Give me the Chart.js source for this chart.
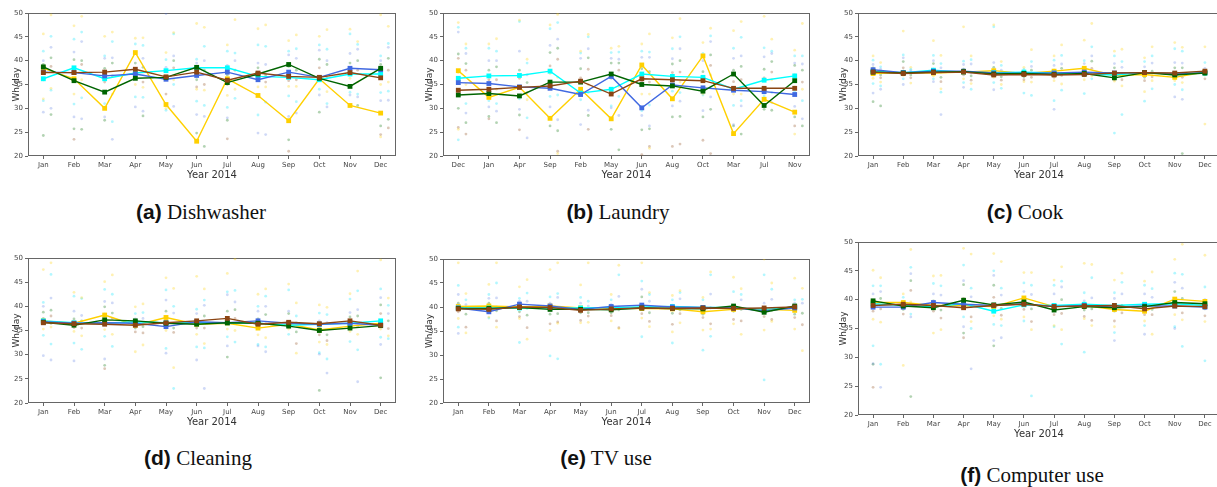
<!DOCTYPE html>
<html lang="en">
<head>
  <meta charset="UTF-8">
  <title>Monthly consumption per appliance</title>
  <script src="https://cdn.jsdelivr.net/npm/chart.js"></script>
  <style>
    body {
      margin: 0;
      width: 1217px;
      height: 487px;
      overflow: hidden;
      background: #fff;
      position: relative;
    }
    .panel { position: absolute; }
    .caption {
      position: absolute;
      width: 360px;
      text-align: center;
      font-family: 'Liberation Serif', 'Times New Roman', serif;
      font-size: 21px;
      line-height: 24px;
      color: #111;
      white-space: nowrap;
    }
    .caption b {
      font-family: 'Liberation Sans', Arial, sans-serif;
      font-weight: 700;
    }
  </style>
</head>
<body>
  <div class="panel" style="left:3px;top:0;width:397px;height:182px"><canvas id="ca"></canvas></div>
  <div class="panel" style="left:416px;top:0;width:399px;height:182px"><canvas id="cb"></canvas></div>
  <div class="panel" style="left:830px;top:0;width:394px;height:182px"><canvas id="cc"></canvas></div>
  <div class="panel" style="left:3px;top:245px;width:397px;height:184px"><canvas id="cd"></canvas></div>
  <div class="panel" style="left:416px;top:246px;width:399px;height:183px"><canvas id="ce"></canvas></div>
  <div class="panel" style="left:830px;top:229px;width:394px;height:212px"><canvas id="cf"></canvas></div>

  <div class="caption" style="left:21px;top:200px"><b>(a)</b> Dishwasher</div>
  <div class="caption" style="left:438px;top:200px"><b>(b)</b> Laundry</div>
  <div class="caption" style="left:845px;top:200px"><b>(c)</b> Cook</div>
  <div class="caption" style="left:18px;top:446px"><b>(d)</b> Cleaning</div>
  <div class="caption" style="left:426px;top:446px"><b>(e)</b> TV use</div>
  <div class="caption" style="left:852px;top:463px"><b>(f)</b> Computer use</div>

  <script>
    // categories
    const months = ['Jan', 'Feb', 'Mar', 'Apr', 'May', 'Jun', 'Jul', 'Aug', 'Sep', 'Oct', 'Nov', 'Dec'];
    const laundryMonths = ['Dec', 'Jan', 'Apr', 'Sep', 'Feb', 'May', 'Jun', 'Aug', 'Oct', 'Mar', 'Jul', 'Nov'];
    const yTicks = [20, 25, 30, 35, 40, 45, 50];

    // (a) Dishwasher
    const dishGold  = [38.4, 36.2, 30.0, 41.7, 30.8, 23.1, 36.2, 32.7, 27.4, 36.2, 30.6, 29.0];
    const dishCyan  = [36.2, 38.5, 36.2, 37.4, 37.9, 38.5, 38.5, 36.7, 36.5, 36.0, 37.2, 37.2];
    const dishBlue  = [37.6, 37.5, 36.8, 37.2, 36.1, 36.9, 37.6, 36.0, 37.6, 36.5, 38.4, 38.1];
    const dishGreen = [38.7, 35.8, 33.4, 36.3, 36.5, 38.6, 35.4, 37.2, 39.2, 36.3, 34.6, 38.4];
    const dishBrown = [37.5, 37.5, 37.6, 38.2, 36.6, 37.6, 35.9, 37.4, 36.7, 36.5, 37.5, 36.4];
    const dishDotsA = [
      [45.6, 42, 40, 39.2, 36, 32, 31.6, 29.2, 24.3], [47.3, 44.5, 41.8, 40.2, 38.2, 33, 30.9, 28.2, 25.7, 23.5],
      [45.1, 41, 40.5, 38.4, 35.5, 33.4, 31, 28.2, 27.5], [44.7, 43.5, 41.5, 39.5, 37.4, 35, 32.4, 30.3],
      [41.7, 40.2, 38.6, 36.5, 33, 30, 29.6, 49.9], [47.8, 40.3, 39.5, 36, 34.5, 34, 31.5, 28.7, 24.8],
      [43.3, 42, 39, 37, 35, 32.7, 30.2, 28, 27.5, 23.6], [46.7, 43.3, 39.5, 38.5, 36, 34.5, 28.6, 24.8],
      [44.2, 42, 41.2, 38.8, 35.8, 34.6, 32.6, 28.3, 23.4, 21], [45.1, 43.3, 42.2, 40.3, 38.5, 36.5, 34, 32.8, 29.2],
      [46.6, 45.6, 41.5, 39.5, 38, 36.3, 33.4, 32.8, 30.6], [49.6, 41, 40, 39.2, 37.5, 35, 33.3, 31.6, 26.3, 24.5, 24]
    ];
    const dishDotsB = [
      [49.6, 45.1, 42.8, 40.6, 38.8, 34.2, 33.8, 30, 28.7], [49.3, 46, 44, 40, 39.2, 36, 32.2, 27.8, 25.6],
      [46, 44, 40.6, 39.5, 36.8, 33, 27.2, 23.5], [44.8, 43.2, 40.5, 38.6, 35.5, 34.4, 32.3, 29.4, 28.4],
      [45.9, 45.6, 41, 40, 38.5, 36, 35, 30.4], [47, 43, 40, 38, 35, 33.8, 30.6, 28.3, 22],
      [48.6, 41.6, 40, 38, 36, 34, 32.1], [47.5, 43, 39.2, 37, 35.5, 34.5, 31.3, 24.5],
      [45.4, 42.5, 40.5, 38, 36, 34.6, 31.4, 29], [46.5, 42.4, 40, 39.2, 36.4, 33.5, 31, 30.3],
      [44, 43.4, 42.4, 40, 38, 35.5, 33, 32.4, 30.6], [47.2, 43.6, 42.8, 40.5, 38, 35.5, 33.6, 31.7, 27.7, 25.9]
    ];

    // (b) Laundry
    const laundryGold  = [37.9, 32.3, 34.4, 27.9, 34.0, 27.8, 39.1, 32.0, 41.0, 24.7, 31.9, 29.2];
    const laundryCyan  = [36.3, 36.8, 36.9, 37.8, 33.2, 34.0, 37.2, 36.7, 36.5, 34.0, 35.9, 36.8];
    const laundryBlue  = [35.4, 35.2, 34.5, 34.2, 32.9, 36.7, 30.1, 34.9, 34.3, 33.8, 33.5, 32.9];
    const laundryGreen = [32.8, 33.1, 32.6, 35.5, 35.5, 37.2, 35.0, 34.7, 33.6, 37.2, 30.6, 35.8];
    const laundryBrown = [33.8, 34.0, 34.4, 34.7, 35.7, 33.0, 36.2, 36.0, 35.8, 34.2, 34.2, 34.2];
    const laundryDotsA = [
      [48, 47, 46, 41.4, 40.5, 37.5, 36, 33.5, 30, 26, 25.6, 23.4], [43.5, 42.6, 40, 38, 36, 33.8, 31.6, 30.3, 28.3, 27.8],
      [48.5, 48.2, 42, 38, 36.3, 34.6, 32, 29.8, 28.6, 25.5], [47.5, 46.7, 43.2, 41.7, 38.9, 37.3, 32.5, 30.3, 26.3],
      [42, 41.6, 40.5, 38.3, 36.4, 33.5, 31.8, 26.6], [42.6, 41.7, 40.5, 39.5, 36.3, 33.6, 30.5, 30.1, 25.6],
      [43.5, 42, 40.7, 38.3, 35.5, 33, 29.5, 28.5, 25.5, 20.3], [44.8, 42.5, 40.4, 39.3, 37.5, 35.5, 33.6, 30.5, 28.2, 22],
      [43.8, 41.5, 40, 37.7, 36.5, 33, 32.8, 29.5, 28.2, 23.3], [46.3, 42.6, 40.5, 38, 35.6, 33, 30.6, 26.6, 26.3, 24.6],
      [49.3, 42.7, 40.8, 38.2, 36.4, 34, 32.6, 30.7, 29.8], [42.2, 41, 39.5, 39, 37, 34.5, 33.5, 30.4, 28.2, 26.3, 24.6]
    ];
    const laundryDotsB = [
      [43.5, 42.6, 41.5, 39.4, 38, 35, 31, 29, 27, 24.6], [44.6, 42, 40, 38.7, 36, 34, 31, 29.4, 27],
      [40.3, 39.5, 37, 35.4, 33.3, 31.8, 28, 23.8], [49.7, 48, 44.5, 42.6, 40.3, 36.5, 32.8, 27.6, 25.3, 21, 20.5],
      [45.5, 45, 42.5, 40.6, 38.2, 35, 33.3, 29.6, 28.5, 25.6], [43, 41.8, 40.3, 39.5, 38, 34.6, 32.5, 28.5, 21.3],
      [45.6, 41.8, 40.7, 37.7, 35.5, 33, 30.7, 26.3, 25.7, 22, 21.6], [48.8, 45, 42.5, 40, 37.6, 35.5, 33.3, 31.5, 28.3, 22.5],
      [46.8, 45.2, 44, 41.2, 39, 37, 34.5, 32.4, 29.8, 20.5], [48.2, 44.9, 41, 38.8, 36, 33, 31.6, 30.5, 24.6],
      [44.5, 42, 41.5, 39.8, 37.6, 36, 33.3, 31.2, 29.6], [47.8, 41, 39.3, 38, 35.5, 34, 31.6, 27.8, 26.3]
    ];

    // (c) Cook
    const cookGold  = [37.3, 37.5, 37.4, 37.6, 37.9, 37.3, 37.8, 38.4, 36.9, 37.1, 36.5, 37.6];
    const cookCyan  = [37.8, 37.5, 38.0, 37.6, 37.5, 37.6, 37.4, 37.2, 37.0, 37.5, 37.2, 37.4];
    const cookBlue  = [38.1, 37.5, 37.8, 37.8, 37.4, 37.3, 37.4, 37.6, 37.4, 37.5, 37.2, 37.5];
    const cookGreen = [37.6, 37.4, 37.6, 37.7, 37.2, 37.3, 37.1, 37.3, 36.4, 37.5, 37.0, 37.4];
    const cookBrown = [37.6, 37.3, 37.5, 37.6, 37.0, 37.1, 37.0, 37.1, 37.4, 37.5, 37.4, 37.8];
    const cookDotsA = [
      [41, 40.1, 39.2, 38.5, 37, 36.3, 35.2, 33.2, 31.4, 38, 37.5], [46.2, 41.2, 40.6, 39.8, 38.5, 36.9, 36.2, 35, 37.8, 37.2],
      [44.2, 41.1, 40, 39.4, 38.2, 36.8, 36.2, 35.6, 37.6, 37.9], [47.1, 39.9, 39.2, 38.2, 37, 36.2, 35.4, 34.4, 37.5, 38],
      [47.5, 47.1, 39.6, 38.6, 37, 36.5, 35.4, 33.9, 37.6], [38.6, 38.2, 37.8, 36.6, 36, 35.6, 33.2, 37.4],
      [41, 40.1, 39, 38, 36.5, 35.8, 31.6, 29.8, 37.5], [44.3, 40, 39.4, 38.4, 36.8, 36, 33.1, 37.4],
      [42, 41, 39.4, 38.5, 36, 35.7, 24.8, 37.2], [40.6, 39.8, 38.7, 36.5, 35.8, 33.5, 31.5, 37.5],
      [43.8, 42.5, 39.6, 38.5, 37, 35.8, 35, 32.4, 37.4], [42.9, 39.6, 38.4, 37, 36.2, 26.7, 37.6]
    ];
    const cookDotsB = [
      [39.6, 38.7, 38.2, 37, 36.4, 35.5, 34.7, 34, 30.5, 37.6], [38.6, 38.2, 37.9, 37, 36.4, 35.3, 37.5],
      [41.1, 39.4, 38.5, 36.5, 35.6, 34.1, 33.4, 28.7, 37.6], [41, 40.2, 39.3, 36.8, 35.9, 35.2, 34, 37.5],
      [39.8, 39, 38, 36.6, 35.9, 35, 34.2, 37.4], [42.3, 39.8, 38.8, 38, 36.5, 35.5, 32.7, 37.4],
      [43.3, 41.1, 39.3, 38.4, 36.9, 35.1, 33.8, 37.4], [47.8, 42.9, 41, 39.9, 38.4, 36.8, 36.2, 37.4],
      [42.4, 39.8, 38.6, 37, 36, 34.7, 28.7, 37.3], [42.9, 41, 39.5, 37.8, 36.6, 35.8, 34.1, 37.4],
      [42.8, 42, 39.5, 38.5, 36.5, 35.4, 33.9, 31.9, 20.5, 37.3], []
    ];

    // (d) Cleaning
    const cleanGold  = [37.0, 36.5, 38.2, 36.1, 37.7, 36.3, 36.5, 35.5, 36.3, 35.1, 35.9, 36.5];
    const cleanCyan  = [37.0, 36.6, 36.5, 36.8, 36.6, 36.6, 36.6, 36.5, 36.1, 36.3, 36.5, 37.0];
    const cleanBlue  = [36.8, 36.5, 36.6, 36.5, 35.8, 36.8, 36.6, 37.0, 36.5, 36.3, 36.5, 36.1];
    const cleanGreen = [36.7, 36.1, 37.2, 37.0, 36.5, 36.3, 36.6, 36.5, 35.9, 35.0, 35.5, 36.0];
    const cleanBrown = [36.6, 36.4, 36.3, 36.1, 36.6, 37.0, 37.5, 36.3, 36.7, 36.4, 37.0, 36.1];
    const cleanDotsA = [
      [47.6, 40.8, 40, 38.8, 37.5, 35.3, 34, 29.8, 36.8], [42.9, 42.1, 39, 37.4, 35.6, 34.8, 32.4, 28.7, 36.5],
      [45.1, 43.5, 41, 39.9, 38.4, 35.2, 33.8, 29.1, 27.8, 27.1], [39.9, 38.5, 37.4, 35.5, 34.7, 30.6, 36.4],
      [45.9, 43.4, 41.3, 39, 37.5, 35, 31.3, 30.3, 36.6], [46.2, 39.4, 38.5, 37, 35.5, 34.2, 31.6, 28.9],
      [46.8, 43, 42.4, 39, 37.2, 35.3, 33.7, 31.8, 29.5], [42.5, 40, 39, 37.4, 35.6, 34.1, 32.1, 31.8],
      [44.6, 43.4, 39, 38.5, 36.8, 35.3, 34.2], [40.3, 38.6, 37, 35.7, 34.1, 32.6, 30.4, 30.1, 22.6],
      [42.6, 41.5, 38.7, 37.8, 35.7, 34.8, 32.7], [49.6, 43.6, 41.8, 40.3, 38.5, 35.3, 33.6, 32.1, 25.2]
    ];
    const cleanDotsB = [
      [49, 46.6, 41.7, 39.2, 38, 35.7, 32.2, 28.9, 36.5], [41.8, 41.6, 38.1, 37, 35.5, 33.9, 31.1],
      [46.5, 42.5, 40.7, 38.6, 37.5, 34.2, 31.7], [40.5, 38.7, 37.5, 35.8, 34.5, 32, 36.6],
      [43.7, 40, 38.6, 35.5, 34.6, 27.3, 23], [43.6, 41.3, 40.2, 38, 35.5, 32.3, 31.4, 23],
      [49.8, 43.3, 40.9, 39.3, 37.5, 35, 32.6], [43.6, 42.1, 40, 38.3, 36.4, 33.5, 31.6, 30.6],
      [40.7, 38, 36.6, 34.7, 32.3, 30.3], [39.8, 38.3, 36.6, 34.1, 32.9, 32.1, 29.1, 26.2],
      [47.3, 43.2, 39.3, 38, 35.9, 34.2, 31, 24.4], [41.7, 40.2, 38.5, 37, 35.4, 33.9, 33.3]
    ];

    // (e) TV use
    const tvGold  = [40.1, 40.2, 40.0, 40.2, 39.8, 39.8, 39.7, 39.6, 39.0, 39.5, 39.5, 39.3];
    const tvCyan  = [39.8, 39.8, 39.8, 39.8, 39.8, 39.9, 40.0, 40.1, 39.9, 39.9, 39.5, 39.9];
    const tvBlue  = [39.8, 39.0, 40.6, 40.2, 39.5, 40.1, 40.4, 40.0, 39.9, 39.8, 39.2, 39.8];
    const tvGreen = [39.7, 39.7, 39.9, 39.5, 39.5, 39.4, 39.8, 39.7, 39.6, 40.2, 38.9, 40.2];
    const tvBrown = [39.6, 39.5, 40.0, 39.9, 39.3, 39.6, 39.8, 39.7, 39.8, 39.7, 39.8, 40.0];
    const tvDotsA = [
      [49.2, 44.5, 42.6, 40.8, 39, 37.6, 35.8, 34.5, 40.2], [44.7, 42.6, 41.8, 40.8, 38.8, 37.9, 37.7, 39.6],
      [44.2, 41.8, 41.2, 39, 38, 37.6, 32.6, 40.3], [47.8, 42.1, 40.8, 38.5, 36.5, 35.1, 29.8, 39.6],
      [44.6, 42, 40.8, 38.8, 37.2, 36.7, 39.6], [42.6, 41.5, 40.5, 38.8, 38.2, 37.1, 39.9],
      [49.2, 45.4, 43.7, 42.1, 38.6, 37.7, 33.8], [42.4, 41.5, 40.4, 38.7, 36.4, 34.8, 32.5],
      [42, 41.5, 39.6, 38.5, 37.8, 35.2, 31], [46.2, 43.2, 40.3, 39.1, 37.4, 36.5],
      [50, 46.7, 40.8, 39, 38, 35.2, 24.8], [46, 41.5, 40.8, 38.5, 37.8, 35.4]
    ];
    const tvDotsB = [
      [42.8, 41.5, 40.5, 38.5, 35.8, 34.6, 39.8], [49.2, 45, 41.9, 39.2, 37.1, 35.8, 40],
      [45.7, 42.9, 41.2, 38.3, 35.7, 33.3, 39.7], [49.2, 42.8, 42, 38.6, 36.9, 36.6, 29.2],
      [49.2, 41.2, 40.2, 38.8, 38.1, 36.8, 39.7], [48.7, 46.7, 42.2, 39.4, 35.7, 35.5, 40],
      [43, 42.6, 41.2, 38.8, 37, 35.9, 39.8], [43.4, 43, 41.7, 39.4, 38.6, 36.7],
      [47.3, 46.7, 42.7, 39.8, 36.5, 35.4, 33.9], [43.8, 42.6, 41.5, 39.5, 37.1, 34.3],
      [45, 43.7, 41.6, 39.3, 37.4, 37], [43.9, 41.6, 40.8, 38.7, 36.3, 30.9]
    ];

    // (f) Computer use
    const pcGold  = [39.5, 39.5, 39.0, 39.0, 38.8, 40.3, 38.8, 39.0, 38.3, 38.0, 40.1, 39.7];
    const pcCyan  = [39.3, 39.0, 38.8, 39.3, 38.0, 39.1, 39.0, 39.2, 39.0, 39.2, 39.3, 39.0];
    const pcBlue  = [38.7, 38.7, 39.5, 39.2, 39.0, 39.3, 38.8, 39.0, 38.7, 38.9, 38.9, 38.7];
    const pcGreen = [39.8, 38.9, 38.6, 39.9, 39.1, 39.6, 38.2, 38.8, 38.6, 38.8, 39.5, 39.3];
    const pcBrown = [39.0, 39.2, 39.0, 38.6, 39.0, 39.2, 38.8, 38.9, 39.0, 38.4, 38.9, 38.8];
    const pcDotsA = [
      [45.1, 42.4, 41, 39.5, 38, 36.6, 32, 28.9, 28.8, 24.8], [41, 40.4, 39.7, 38.3, 37.5, 28.6, 39.2],
      [44.1, 42.8, 41, 39.8, 38, 34.2, 39.2], [48.9, 46, 43.3, 42.6, 40.2, 38.5, 37, 35.3, 34.2, 33.4],
      [48, 45, 44.2, 42.5, 40.4, 37.2, 35.7, 32.9, 32], [44.7, 42.9, 41.4, 40, 38.3, 37, 36.3],
      [43.4, 42.5, 41, 38.5, 37.4, 35.5, 35.3], [46.3, 41.2, 39.8, 38.2, 37.1, 36.7, 30.9],
      [43.4, 41.2, 40.2, 38, 36.3, 35.3, 34.3, 32.9], [43.2, 42.5, 41, 39.2, 37.4, 36.3, 35.5, 34],
      [47, 44.6, 43, 41.4, 39.6, 37.4, 35.3, 35], [47.7, 42.2, 40, 38.4, 37.2, 36.2, 29.4]
    ];
    const pcDotsB = [
      [43.8, 42.4, 41.4, 40.2, 38.4, 36.1, 28.8, 24.8], [48.7, 45.6, 44.5, 43.3, 41.6, 39.6, 37.5, 37, 23.2],
      [44.2, 42.4, 40.8, 38.2, 36.8, 34.8], [47.9, 42, 40.5, 38.8, 37, 36.2, 35, 28],
      [46.6, 42, 40.8, 38.5, 37.3, 36.6, 35.5, 33.4], [44.7, 42.5, 40.9, 38.4, 36.2, 34.8, 23.3],
      [45.7, 43.2, 42.2, 40, 37.6, 34.8, 32.3], [46.1, 43.8, 40.3, 38.4, 36.4, 35.5],
      [44.6, 43, 41, 39, 37.7], [44.8, 41.9, 40.4, 38.3, 37.4, 34],
      [49.6, 44.4, 42, 40.2, 37.7, 36.5, 31.9], []
    ];

    // styles
    const lineColors = ['#FFD000', '#00FFFF', '#4169E1', '#006400', '#8B4513'];
    const dotColors = [
      'rgba(255, 208, 0, 0.3)', 'rgba(0, 230, 255, 0.3)', 'rgba(65, 105, 225, 0.25)',
      'rgba(0, 110, 0, 0.3)', 'rgba(139, 69, 19, 0.3)'
    ];
    const dotShift = 0.25;

    const frame = {
      id: 'frame',
      beforeDatasetsDraw(chart) {
        const a = chart.chartArea, c = chart.ctx;
        c.save();
        c.strokeStyle = '#666';
        c.lineWidth = 1;
        c.strokeRect(Math.round(a.left) + 0.5, Math.round(a.top) + 0.5,
          Math.round(a.right - a.left) - 1, Math.round(a.bottom - a.top) - 1);
        c.restore();
      }
    };

    function makePanel(canvasId, cats, lines, dotsA, dotsB, yWidth, padRight) {
      const datasets = [];
      // lines: brown on top, gold at the bottom
      lines.forEach((vals, k) => {
        datasets.push({
          type: 'line',
          data: vals.map((v, i) => ({ x: i, y: v })),
          borderColor: lineColors[k],
          backgroundColor: lineColors[k],
          borderWidth: 1.4,
          pointStyle: 'rect',
          pointRadius: 3.4,
          pointBorderWidth: 0,
          tension: 0,
          order: 5 - k
        });
      });
      // faint daily points, two columns per month
      lineColors.forEach((_, k) => {
        const pts = [];
        [[dotsA, 0], [dotsB, dotShift]].forEach(([cols, dx]) => {
          cols.forEach((col, i) => {
            col.forEach((v, j) => { if (j % 5 === k) pts.push({ x: i + dx, y: v }); });
          });
        });
        datasets.push({
          type: 'scatter',
          data: pts,
          backgroundColor: dotColors[k],
          borderWidth: 0,
          pointRadius: 1.4,
          order: 10
        });
      });

      new Chart(document.getElementById(canvasId), {
        data: { datasets },
        options: {
          responsive: true,
          maintainAspectRatio: false,
          animation: false,
          layout: { padding: { left: 4, top: 13, right: padRight, bottom: 0 } },
          plugins: { legend: { display: false }, tooltip: { enabled: false } },
          scales: {
            x: {
              type: 'linear',
              min: -0.5,
              max: 11.5,
              afterBuildTicks: s => { s.ticks = cats.map((_, i) => ({ value: i })); },
              afterFit: s => { s.height = 26; },
              ticks: {
                autoSkip: false,
                maxRotation: 0,
                padding: 2,
                color: '#444',
                font: { family: 'DejaVu Sans', size: 7 },
                callback: v => cats[v]
              },
              grid: { drawOnChartArea: false, drawTicks: true, tickLength: 3, color: '#666' },
              border: { display: false },
              title: {
                display: true,
                text: 'Year 2014',
                color: '#333',
                font: { family: 'DejaVu Sans', size: 10 },
                padding: { top: 0, bottom: 1 }
              }
            },
            y: {
              min: 20,
              max: 50,
              afterBuildTicks: s => { s.ticks = yTicks.map(v => ({ value: v })); },
              afterFit: s => { s.width = yWidth; },
              ticks: {
                padding: 2,
                color: '#444',
                font: { family: 'DejaVu Sans', size: 7 }
              },
              grid: { drawOnChartArea: false, drawTicks: true, tickLength: 3, color: '#666' },
              border: { display: false },
              title: {
                display: true,
                text: 'Wh/day',
                color: '#333',
                font: { family: 'DejaVu Sans', size: 9 },
                padding: { top: 4, bottom: 0 }
              }
            }
          }
        },
        plugins: [frame]
      });
    }

    makePanel('ca', months, [dishGold, dishCyan, dishBlue, dishGreen, dishBrown], dishDotsA, dishDotsB, 21, 2);
    makePanel('cb', laundryMonths, [laundryGold, laundryCyan, laundryBlue, laundryGreen, laundryBrown], laundryDotsA, laundryDotsB, 23, 5);
    makePanel('cc', months, [cookGold, cookCyan, cookBlue, cookGreen, cookBrown], cookDotsA, cookDotsB, 24, 0);
    makePanel('cd', months, [cleanGold, cleanCyan, cleanBlue, cleanGreen, cleanBrown], cleanDotsA, cleanDotsB, 21, 2);
    makePanel('ce', months, [tvGold, tvCyan, tvBlue, tvGreen, tvBrown], tvDotsA, tvDotsB, 23, 5);
    makePanel('cf', months, [pcGold, pcCyan, pcBlue, pcGreen, pcBrown], pcDotsA, pcDotsB, 24, 0);
  </script>
</body>
</html>
